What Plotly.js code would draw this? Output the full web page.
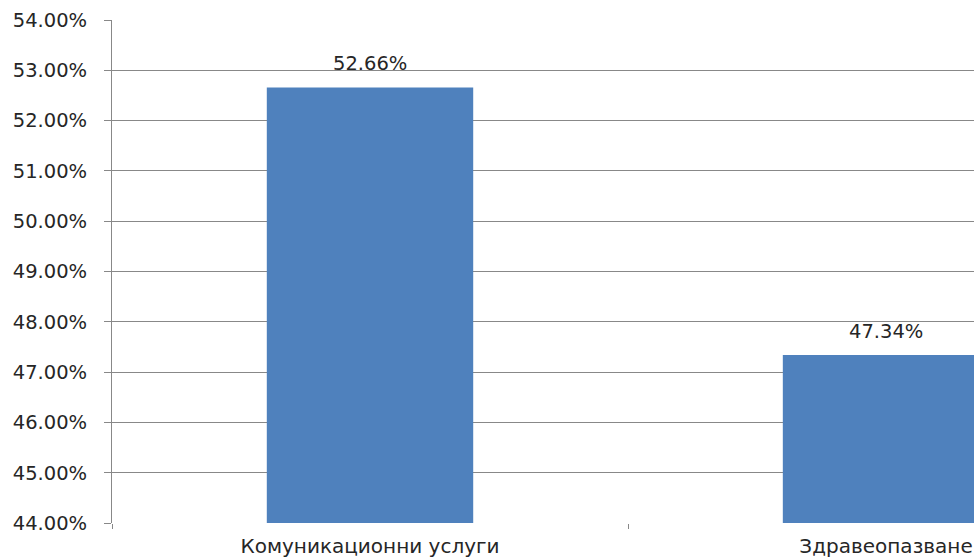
<!DOCTYPE html>
<html>
<head>
<meta charset="utf-8">
<script src="https://cdn.plot.ly/plotly-3.0.1.min.js"></script>
<style>html,body{margin:0;padding:0;background:#fff;}#chart{width:974px;height:557px;}</style>
</head>
<body>
<div id="chart"></div>
<script>
const categories = ["Комуникационни услуги", "Здравеопазване"];
const values = [0.5266, 0.4734];
const yTicks = [0.44, 0.45, 0.46, 0.47, 0.48, 0.49, 0.50, 0.51, 0.52, 0.53, 0.54];

const FONT = "DejaVu Sans, Verdana, sans-serif";
const trace = {
  type: "bar",
  x: categories,
  y: values,
  marker: {color: "#4f81bd"},
  hoverinfo: "none"
};
const annotations = categories.map((c, i) => ({
  x: c, y: values[i], xref: "x", yref: "y",
  text: (values[i] * 100).toFixed(2) + "%",
  showarrow: false, yanchor: "bottom", yshift: 10,
  font: {family: FONT, size: 19.5, color: "#262626"}
}));
const layout = {
  width: 974, height: 557,
  margin: {l: 112, r: 0, t: 20, b: 34, pad: 0},
  paper_bgcolor: "#fff", plot_bgcolor: "#fff",
  showlegend: false,
  bargap: 0.6,
  font: {family: FONT, size: 19.5, color: "#262626"},
  xaxis: {
    type: "category",
    range: [-0.5, 1.1705],
    showline: false,
    showgrid: false,
    ticks: "outside", tickson: "boundaries", ticklen: 5, tickcolor: "#888",
    tickfont: {family: FONT, size: 20, color: "#262626"},
    ticklabelstandoff: 9,
    zeroline: false
  },
  yaxis: {
    range: [0.44, 0.54],
    tickvals: yTicks,
    tickformat: ".2%",
    showline: true, linecolor: "#888", linewidth: 1,
    showgrid: true, gridcolor: "#888", gridwidth: 1,
    ticks: "outside", ticklen: 7, tickcolor: "#888",
    tickfont: {family: FONT, size: 19.5, color: "#262626"},
    ticklabelstandoff: 13,
    zeroline: false
  },
  annotations: annotations
};
Plotly.newPlot("chart", [trace], layout, {displayModeBar: false, staticPlot: true});
</script>
</body>
</html>
